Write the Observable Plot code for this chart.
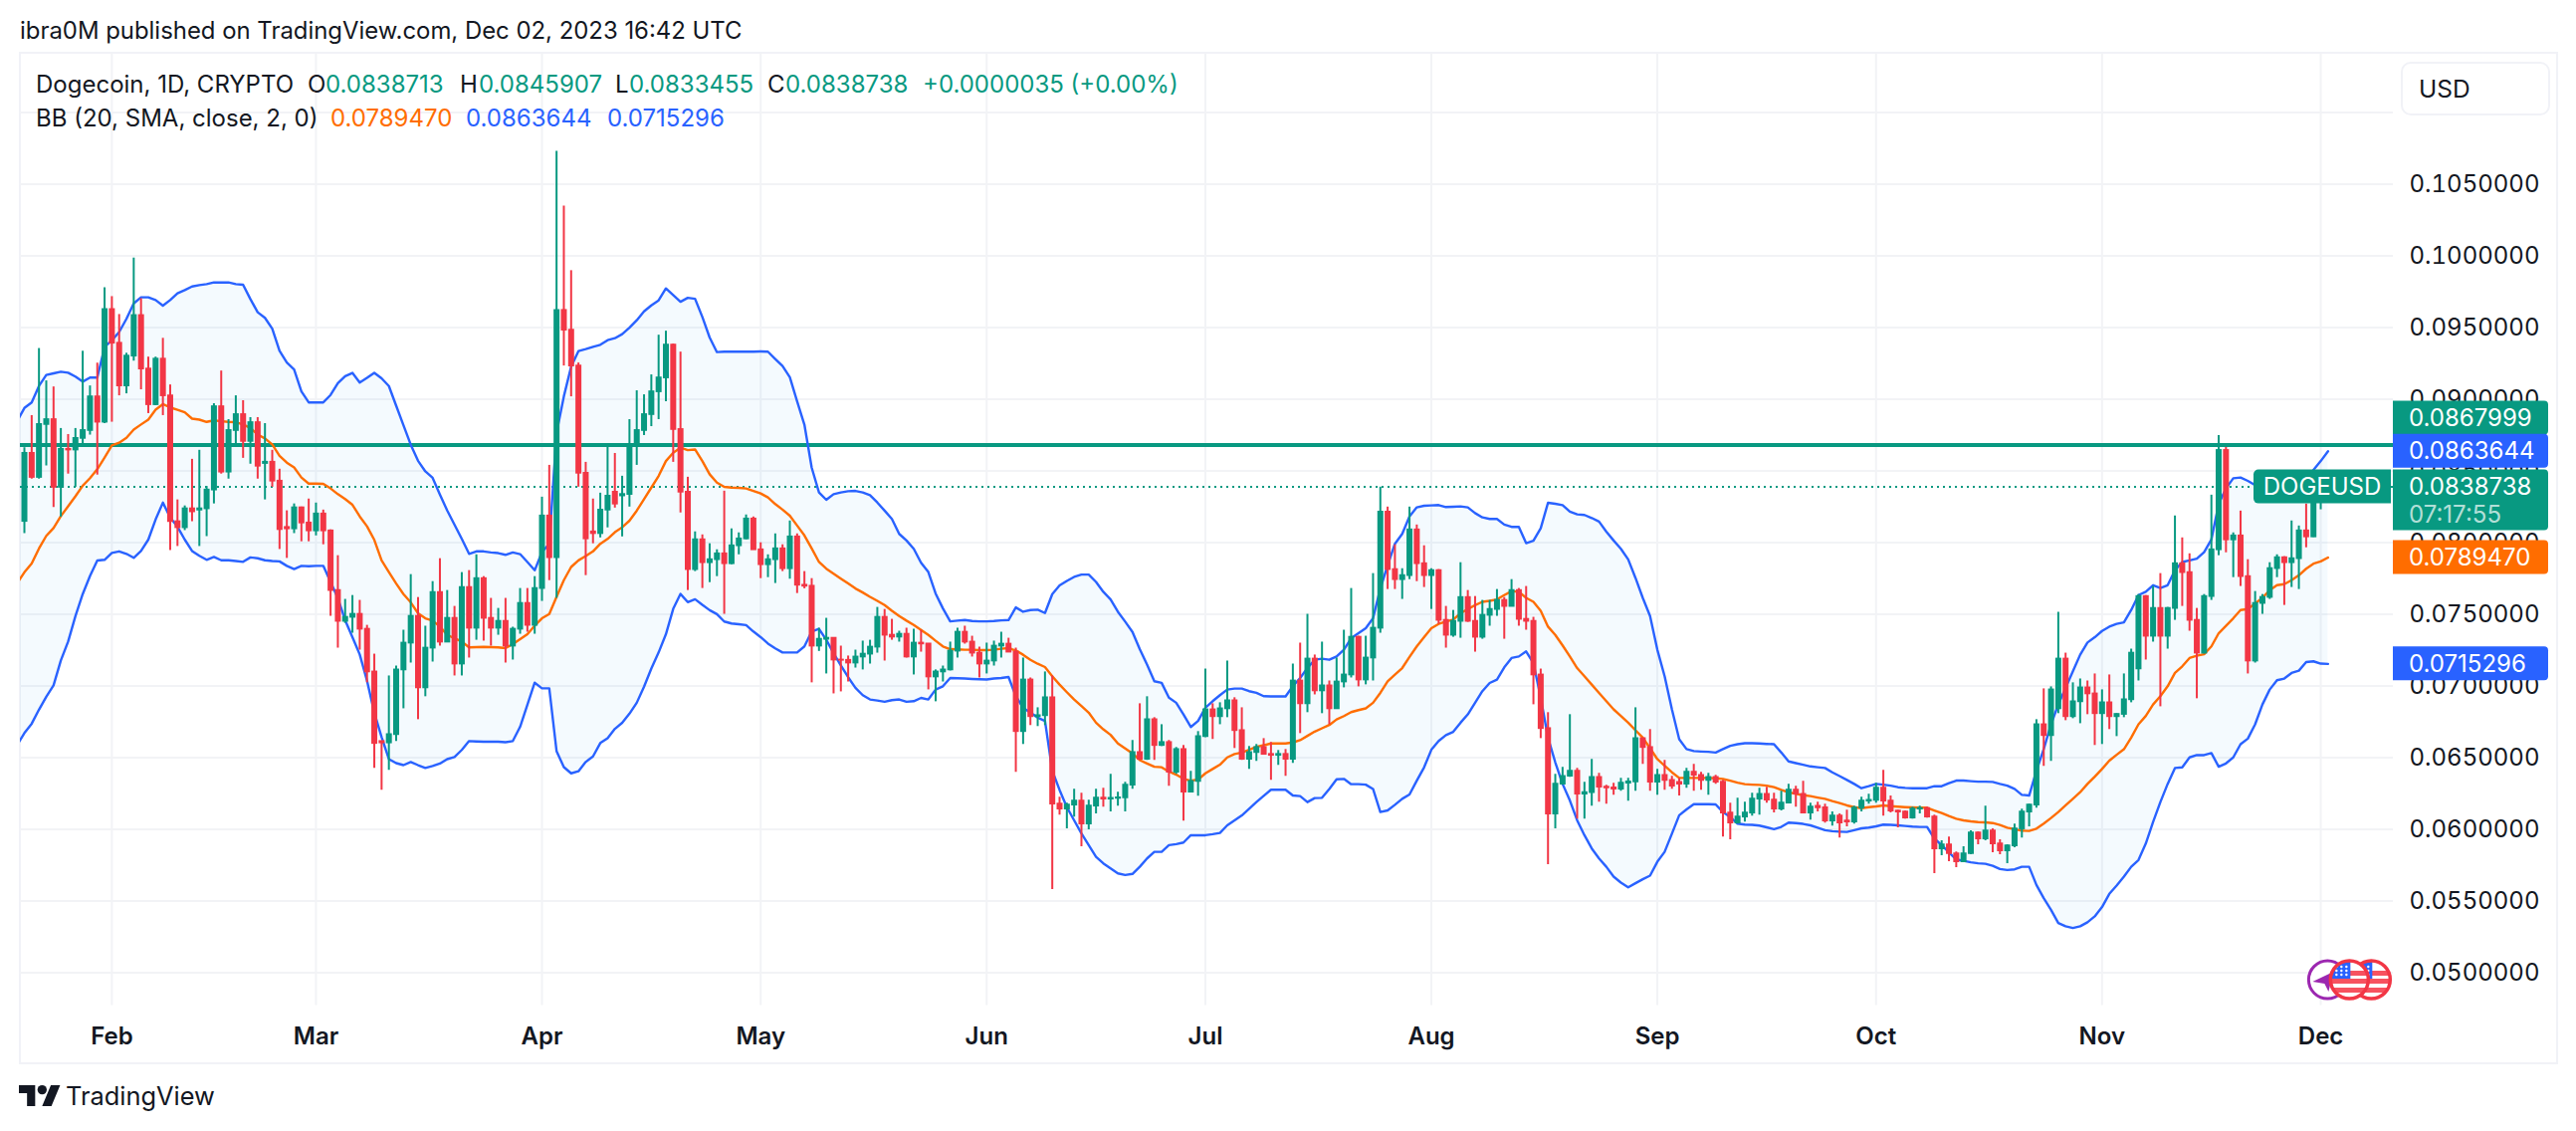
<!DOCTYPE html>
<html><head><meta charset="utf-8">
<script src="https://cdn.jsdelivr.net/npm/d3@7"></script>
<script src="https://cdn.jsdelivr.net/npm/@observablehq/plot@0.6"></script>
<style>
html,body{margin:0;padding:0;background:#fff;width:2588px;height:1136px;overflow:hidden;font-family:Inter,"Liberation Sans",sans-serif;color:#131722}
#frame{position:absolute;left:19px;top:52px;width:2547px;height:1013px;border:2px solid #f1f2f7}
#chart{position:absolute;left:0;top:0}
.t{position:absolute;white-space:pre;font-size:24px;line-height:30px}
.g{color:#089981}.o{color:#ff6d00}.b{color:#2962ff}
#usd{position:absolute;left:2412px;top:62px;width:146px;height:50px;border:2px solid #f1f2f7;border-radius:10px;background:#fff;font-size:24.5px;line-height:50px;text-indent:16px}
#logo{position:absolute;left:19px;top:1089px}
</style></head><body>
<div id="frame"></div>
<div id="chart"></div>
<div class="t" style="left:20px;top:16px;font-size:23.9px" id="pub">ibra0M published on TradingView.com, Dec 02, 2023 16:42 UTC</div>
<div class="t" style="left:36px;top:70px">Dogecoin, 1D, CRYPTO</div>
<div class="t" style="left:309px;top:70px">O</div><div class="t g" style="left:327px;top:70px">0.0838713</div>
<div class="t" style="left:462px;top:70px">H</div><div class="t g" style="left:481px;top:70px">0.0845907</div>
<div class="t" style="left:618px;top:70px">L</div><div class="t g" style="left:632px;top:70px">0.0833455</div>
<div class="t" style="left:771px;top:70px">C</div><div class="t g" style="left:789px;top:70px">0.0838738</div>
<div class="t g" style="left:927px;top:70px">+0.0000035 (+0.00%)</div>
<div class="t" style="left:36px;top:104px">BB (20, SMA, close, 2, 0)</div>
<div class="t o" style="left:332px;top:104px">0.0789470</div>
<div class="t b" style="left:468px;top:104px">0.0863644</div>
<div class="t b" style="left:610px;top:104px">0.0715296</div>
<div id="usd">USD</div>
<svg id="logo" width="42" height="24" viewBox="0 4 36 19"><path fill="#131722" d="M14 22H7V11H0V4h14v18zM28 22h-8l7.5-18h8L28 22z"/><circle fill="#131722" cx="20" cy="8" r="4"/></svg>
<div class="t" style="left:66px;top:1084px;font-size:25.4px;line-height:34px">TradingView</div>
<script>
// all prices below are in units of 0.00001 USD
const close=[8622,8454,8823,8857,8385,8650,8645,8726,8781,9016,
8839,9625,9390,9092,9300,9583,9210,8961,9279,9023,
8145,8103,8235,8214,8235,8366,8947,8491,8781,8892,
8705,8836,8532,8560,8428,8090,8095,8242,8136,8081,
8199,8081,7665,7450,7478,7499,7395,7097,6598,6602,
6660,7111,7298,7485,6986,7263,7651,7305,7471,7152,
7686,7402,7748,7471,7402,7450,7277,7395,7575,7422,
7679,8185,7894,9619,9481,9231,8483,8025,8062,8226,
8323,8268,8335,8684,8781,8892,9051,9148,9377,8788,
8351,7811,8019,7859,7880,7921,7852,7977,8025,8164,
7949,7845,7880,7956,7817,8039,7702,7695,7277,7325,
7332,7180,7178,7159,7201,7221,7270,7478,7353,7340,
7360,7201,7298,7292,7062,7097,7111,7242,7374,7305,
7228,7152,7173,7277,7291,7235,6681,7041,6785,6792,
6917,6175,6140,6168,6196,6036,6161,6217,6210,6215,
6219,6307,6535,6487,6764,6584,6605,6397,6556,6258,
6334,6646,6833,6785,6840,6896,6688,6487,6535,6570,
6522,6515,6522,6487,7034,6875,7187,6965,7000,6840,
7027,7076,7339,7041,7194,7402,8212,7811,7741,7769,
8088,7852,7769,7804,7457,7353,7450,7616,7450,7339,
7492,7533,7596,7554,7665,7464,7450,7076,6702,6106,
6314,6369,6404,6244,6256,6362,6293,6288,6280,6321,
6330,6632,6570,6328,6376,6341,6300,6314,6397,6376,
6341,6362,6328,6113,6043,6085,6113,6210,6244,6203,
6140,6182,6272,6244,6113,6154,6150,6057,6092,6043,
6050,6147,6196,6201,6286,6196,6127,6120,6078,6140,
6145,6085,5863,5891,5829,5773,5829,5974,5932,5988,
5898,5849,5884,6002,6120,6168,6729,6653,6972,7187,
6785,6889,6986,6944,6806,6882,6785,6801,6903,7228,
7623,7346,7540,7346,7540,7852,7790,7457,7228,7623,
7949,8642,8018,8046,7762,7173,7575,7617,7818,7894,
7859,7887,8081,8039,8320,8387,8387.38];
const high=[8661,8885,9353,9127,9085,8795,8753,8795,9334,9092,
9251,9777,9715,9590,9320,9984,9701,9293,9293,9424,
9099,8297,8255,8580,8643,8391,8968,9196,8857,9023,
8989,8871,8871,8829,8643,8511,8221,8269,8247,8303,
8275,8226,8088,7908,7603,7630,7596,7422,7221,6612,
7069,7138,7388,7776,7616,7416,7727,7887,7665,7554,
7790,7804,7914,7762,7610,7540,7610,7409,7679,7679,
7762,8316,8538,10728,10347,9896,9252,8559,8303,8344,
8663,8621,8462,8857,9058,9030,9169,9446,9474,9384,
9328,8455,8074,8053,7991,7949,8358,8095,8067,8192,
8178,7998,7914,8060,7984,8150,8060,7797,7748,7402,
7471,7332,7277,7208,7249,7312,7318,7547,7533,7464,
7381,7402,7395,7388,7284,7111,7138,7305,7402,7416,
7346,7270,7298,7312,7374,7332,7263,7194,7055,6847,
7097,7069,6224,6182,6279,6251,6203,6279,6286,6383,
6258,6328,6619,6875,6924,6778,6729,6619,6570,6584,
6404,6681,7117,6875,6882,7173,6917,6847,6577,6591,
6632,6605,6549,6556,7152,7298,7499,7215,7305,7034,
7194,7388,7679,7346,7346,7783,8386,8247,7984,7817,
8247,8122,7977,7817,7811,7554,7526,7859,7665,7623,
7596,7596,7672,7616,7741,7679,7693,7478,7117,6813,
6383,6431,6799,6425,6328,6487,6390,6307,6321,6355,
6355,6847,6632,6695,6418,6480,6369,6355,6425,6452,
6397,6390,6376,6341,6182,6217,6189,6251,6286,6293,
6251,6265,6314,6300,6334,6182,6189,6175,6120,6106,
6133,6161,6224,6244,6321,6411,6231,6133,6127,6154,
6161,6154,6099,5919,5946,5842,5877,5988,5981,6161,
6002,5926,5891,6036,6140,6175,6764,6979,6993,7513,
7228,7021,7048,7034,7083,6972,7076,6806,7083,7256,
7637,7630,7693,7783,7547,8185,8032,7921,7540,7637,
8330,8746,8663,8067,8219,7880,7658,7637,7859,7914,
7901,8150,8115,8268,8360,8460,8459.07];
const low=[8062,8442,8442,8534,8244,8177,8477,8385,8684,8749,
8470,8829,8839,9023,9037,9265,9065,8899,8954,8885,
7944,7972,8083,8145,7972,8041,8269,8477,8442,8677,
8587,8546,8442,8297,8385,7951,7889,8062,8005,8005,
8046,7984,7485,7263,7436,7367,7249,7021,6425,6272,
6411,6612,6840,7159,6764,6924,7166,7277,7305,7069,
7069,7194,7318,7312,7277,7353,7159,7180,7360,7374,
7360,7589,7734,7610,9231,9016,8386,7769,7991,8032,
8102,8240,8039,8247,8538,8746,8808,8857,8982,8559,
8206,7665,7797,7679,7720,7762,7499,7845,7914,8019,
7949,7748,7755,7714,7797,7744,7644,7677,7021,7240,
7083,6944,6958,7027,7124,7111,7152,7228,7173,7318,
7305,7194,7076,7235,6972,6889,7027,7104,7194,7291,
7201,7055,7083,7138,7194,7235,6397,6591,6723,6716,
6723,5579,6099,6002,6085,5877,5995,6106,6154,6120,
6161,6120,6279,6480,6480,6480,6577,6300,6383,6057,
6258,6230,6639,6626,6729,6778,6563,6480,6418,6473,
6522,6341,6445,6369,6459,6667,6813,6937,6806,6729,
6840,6986,7055,6993,7007,7034,7367,7672,7672,7603,
7741,7727,7686,7533,7429,7263,7339,7332,7443,7235,
7325,7416,7485,7325,7554,7416,7388,6868,6632,5752,
6002,6307,6362,6071,6071,6161,6189,6175,6237,6265,
6196,6265,6452,6265,6237,6272,6279,6231,6286,6265,
6272,6237,6314,5946,5926,6036,6050,6092,6099,6182,
6113,6127,6177,6154,6113,6064,6120,6043,6022,5939,
6016,6036,6120,6175,6182,6092,6113,6009,6071,6071,
6106,6078,5690,5815,5773,5732,5766,5822,5891,5919,
5836,5822,5759,5870,5939,6016,6147,6438,6473,6806,
6757,6771,6736,6799,6584,6591,6695,6646,6778,6882,
7034,7180,7305,6854,7256,7457,7554,7381,6910,7222,
7596,7908,7928,7755,7693,7083,7159,7499,7603,7755,
7561,7686,7672,7963,8035,8228,8334.55];
// bars whose open was read as differing from the previous close
const openRead={0:8147,24:8226,33:8551,36:8105,49:6612,78:8074,81:8351,82:8325,227:6327,246:6160,250:6057,279:6840,290:7118,316:8387.13};
// Bollinger bands: first entry is the day before the first bar
const upper=[8846,8938,8977,9092,9168,9180,9191,9184,9157,9122,9150,
9150,9364,9410,9468,9560,9668,9710,9710,9691,9652,
9691,9738,9761,9786,9795,9802,9814,9814,9814,9802,
9798,9698,9606,9567,9491,9337,9256,9207,9054,8977,
8977,8977,9029,9111,9160,9183,9116,9148,9183,9145,
9091,8954,8818,8682,8570,8496,8451,8335,8223,8124,
8025,7921,7938,7938,7931,7926,7914,7931,7919,7864,
7806,7933,7991,8765,9019,9227,9335,9349,9365,9379,
9411,9425,9453,9499,9550,9612,9654,9689,9772,9726,
9679,9707,9700,9573,9430,9328,9331,9331,9331,9331,
9331,9333,9331,9280,9231,9153,8984,8822,8522,8349,
8298,8337,8349,8358,8360,8349,8330,8279,8222,8164,
8060,8014,7956,7859,7794,7644,7540,7450,7455,7459,
7452,7450,7450,7452,7457,7459,7547,7517,7529,7531,
7508,7640,7700,7732,7760,7776,7776,7725,7656,7603,
7517,7448,7376,7256,7148,7032,7021,6917,6882,6801,
6713,6755,6847,6893,6935,6974,6981,6981,6963,6951,
6928,6926,6926,6926,6997,7055,7125,7182,7189,7182,
7205,7252,7332,7367,7402,7471,7679,7841,7991,8060,
8182,8245,8256,8259,8261,8247,8249,8252,8245,8205,
8175,8164,8164,8125,8109,8109,7995,8012,8099,8277,
8270,8261,8215,8196,8192,8171,8146,8076,8014,7956,
7882,7753,7614,7487,7252,7067,6836,6628,6559,6545,
6542,6540,6535,6559,6582,6593,6600,6600,6598,6595,
6593,6535,6473,6461,6450,6438,6432,6427,6397,6371,
6344,6316,6286,6300,6316,6311,6304,6293,6288,6286,
6286,6286,6300,6300,6321,6339,6339,6335,6332,6332,
6330,6316,6304,6281,6240,6235,6408,6559,6732,6870,
6986,7101,7217,7302,7339,7383,7413,7432,7443,7529,
7633,7656,7702,7683,7702,7806,7864,7875,7887,7933,
8021,8268,8377,8448,8453,8430,8400,8370,8350,8340,
8335,8340,8360,8430,8506,8568,8636.44];
const middle=[7716,7792,7854,7958,8046,8101,8184,8253,8322,8396,8449,
8511,8592,8677,8696,8730,8788,8823,8857,8926,8965,
8942,8926,8908,8864,8857,8841,8852,8846,8841,8839,
8823,8799,8753,8726,8684,8604,8557,8523,8453,8411,
8411,8409,8377,8337,8303,8263,8182,8113,8018,7875,
7794,7714,7640,7582,7506,7471,7455,7413,7355,7332,
7309,7268,7270,7272,7270,7268,7263,7291,7325,7360,
7420,7471,7501,7621,7737,7829,7875,7905,7938,7991,
8025,8072,8106,8152,8222,8302,8383,8464,8568,8626,
8661,8644,8649,8568,8476,8418,8388,8383,8381,8377,
8360,8342,8314,8268,8229,8187,8118,8049,7958,7864,
7817,7783,7748,7714,7679,7651,7621,7593,7563,7524,
7487,7455,7425,7390,7355,7314,7275,7256,7254,7252,
7252,7249,7249,7252,7259,7263,7247,7217,7182,7154,
7131,7067,7009,6956,6905,6859,6813,6743,6697,6658,
6598,6563,6529,6482,6459,6436,6432,6402,6381,6351,
6339,6346,6390,6420,6450,6501,6524,6535,6554,6575,
6586,6598,6598,6598,6605,6621,6651,6681,6704,6727,
6766,6789,6817,6831,6843,6882,6951,7032,7078,7124,
7201,7275,7339,7402,7432,7448,7462,7506,7536,7563,
7586,7593,7603,7633,7660,7656,7614,7586,7524,7413,
7355,7282,7205,7124,7067,7009,6951,6893,6836,6790,
6743,6690,6639,6565,6489,6443,6397,6358,6358,6358,
6358,6358,6355,6351,6339,6325,6314,6311,6309,6304,
6293,6274,6258,6247,6237,6231,6221,6212,6196,6182,
6166,6154,6147,6154,6159,6166,6161,6157,6154,6152,
6150,6150,6131,6113,6092,6073,6062,6055,6050,6048,
6043,6029,6011,6000,5990,5988,6004,6039,6078,6120,
6166,6212,6258,6316,6367,6420,6478,6519,6558,6639,
6732,6790,6870,6928,6997,7090,7136,7194,7210,7221,
7275,7367,7418,7471,7529,7536,7575,7614,7667,7702,
7709,7737,7771,7817,7852,7868,7894.70];
const lower=[6587,6671,6736,6834,6924,7003,7177,7309,7486,7640,7767,
7874,7879,7927,7938,7921,7893,7941,8020,8160,8278,
8174,8110,8020,7941,7907,7879,7899,7876,7876,7871,
7865,7896,7890,7876,7871,7868,7837,7815,7837,7834,
7837,7837,7725,7612,7458,7340,7219,7036,6812,6643,
6489,6461,6447,6469,6447,6427,6441,6458,6489,6503,
6553,6615,6612,6610,6610,6610,6607,6615,6714,6868,
7022,6983,6983,6545,6433,6390,6404,6469,6508,6601,
6635,6700,6742,6806,6882,6994,7121,7233,7360,7537,
7641,7584,7604,7565,7528,7500,7449,7435,7430,7424,
7379,7340,7295,7261,7233,7233,7233,7275,7379,7397,
7321,7228,7143,7060,6986,6935,6905,6898,6889,6900,
6905,6889,6893,6916,6905,6974,6997,7055,7053,7051,
7048,7046,7044,7051,7055,7062,6928,6847,6813,6778,
6755,6408,6274,6154,6062,5970,5889,5808,5762,5727,
5692,5681,5688,5738,5796,5842,5842,5889,5896,5907,
5958,5958,5958,5965,5974,6027,6062,6096,6143,6189,
6233,6275,6275,6275,6235,6231,6189,6217,6219,6281,
6348,6351,6314,6314,6311,6281,6120,6131,6170,6212,
6242,6339,6431,6554,6616,6656,6679,6743,6801,6882,
6963,7020,7044,7129,7194,7205,7240,7159,6917,6639,
6466,6316,6200,6062,5958,5866,5796,5738,5669,5628,
5595,5623,5651,5676,5773,5842,5969,6097,6138,6175,
6175,6175,6173,6120,6085,6039,6032,6030,6025,6013,
6000,6016,6046,6043,6037,6027,6011,5993,5986,5983,
5981,5993,6006,6011,6020,6032,6030,6027,6023,6018,
6016,6016,5935,5889,5838,5789,5780,5769,5762,5759,
5745,5722,5715,5720,5738,5738,5611,5519,5438,5346,
5323,5311,5323,5351,5392,5457,5549,5607,5669,5738,
5785,5900,6050,6189,6316,6427,6431,6501,6517,6517,
6531,6436,6459,6501,6593,6632,6732,6870,6974,7039,
7051,7090,7106,7166,7171,7155,7152.96];
const priceTicks=[0.05,0.055,0.06,0.065,0.07,0.075,0.08,0.085,0.09,0.095,0.1,0.105];
const gridPrices=[...priceTicks,0.11];
const monthTicks=["2023-02-01","2023-03-01","2023-04-01","2023-05-01","2023-06-01","2023-07-01","2023-08-01","2023-09-01","2023-10-01","2023-11-01","2023-12-01"];
const trendLevel=0.0867999, lastPrice=0.0838738;
const priceLabels=[
 {text:"0.0867999",value:trendLevel,fill:"#089981",dy:-27},
 {text:"0.0863644",value:0.0863644,fill:"#2962ff",dy:0},
 {text:"0.0838738",value:lastPrice,fill:"#089981",dy:0,extra:"07:17:55",name:"DOGEUSD"},
 {text:"0.0789470",value:0.078947,fill:"#ff6d00",dy:0},
 {text:"0.0715296",value:0.0715296,fill:"#2962ff",dy:0}];
const eventDays=[{i:316,kind:"split"},{i:322,kind:"us"},{i:319,kind:"us"}];

const UP="#089981",DOWN="#f23645",GRID="#f2f3f6",UNIT=1e-5,LAST_SLOT=324.96;
const dayOf=i=>new Date(Date.UTC(2023,0,20)+i*864e5);
const bars=close.map((c,i)=>{
  const o=(openRead[i]??close[i-1])*UNIT, cl=c*UNIT;
  return {date:dayOf(i),open:o,close:cl,high:high[i]*UNIT,low:low[i]*UNIT,up:cl>=o};
});
const bands=upper.map((u,k)=>({date:dayOf(k-1),upper:u*UNIT,middle:middle[k]*UNIT,lower:lower[k]*UNIT}));
const pad=0.00006;
const chart=Plot.plot({
  width:2588,height:1136,marginLeft:20,marginRight:184,marginTop:53,marginBottom:126.5,
  style:{background:"transparent",fontFamily:"Inter,sans-serif",fontSize:"24px",color:"#131722"},
  x:{type:"utc",domain:[dayOf(-0.546),dayOf(LAST_SLOT)]},
  y:{domain:[0.0477,0.114125]},
  marks:[
    Plot.ruleX(monthTicks.map(d=>new Date(d)),{stroke:GRID,strokeWidth:2}),
    Plot.ruleY(gridPrices,{stroke:GRID,strokeWidth:2}),
    Plot.axisY({anchor:"right",ticks:priceTicks,tickFormat:d3.format(".7f"),tickSize:0,tickPadding:16,label:null,fontSize:24}),
    Plot.axisX({ticks:monthTicks.map(d=>new Date(d)),tickFormat:d3.utcFormat("%b"),tickSize:0,tickPadding:22,label:null,fontWeight:600,fontSize:24}),
    Plot.areaY(bands,{x:"date",y1:"lower",y2:"upper",fill:"#2196f3",fillOpacity:0.05,clip:"frame"}),
    Plot.ruleY([lastPrice],{stroke:UP,strokeWidth:2,strokeDasharray:"2 4"}),
    Plot.ruleY([trendLevel],{stroke:UP,strokeWidth:4}),
    Plot.lineY(bands,{x:"date",y:"upper",stroke:"#2962ff",strokeWidth:2.4,clip:"frame"}),
    Plot.lineY(bands,{x:"date",y:"lower",stroke:"#2962ff",strokeWidth:2.4,clip:"frame"}),
    Plot.lineY(bands,{x:"date",y:"middle",stroke:"#ff6d00",strokeWidth:2.4,clip:"frame"}),
    Plot.ruleX(bars,{x:"date",y1:"low",y2:"high",stroke:d=>d.up?UP:DOWN,strokeWidth:2,clip:"frame"}),
    Plot.ruleX(bars,{x:"date",y1:d=>Math.min(d.open,d.close)-pad,y2:d=>Math.max(d.open,d.close)+pad,stroke:d=>d.up?UP:DOWN,strokeWidth:6,clip:"frame"})
  ]
});
document.getElementById("chart").append(chart);

// price labels and event badges positioned through the chart's own scales
const sy=chart.scale("y").apply, sx=chart.scale("x").apply;
const svg=d3.select(chart);
const right=sx(dayOf(LAST_SLOT));
const boxW=156, boxH=34;
const roundR=(x,y,w,h,r)=>`M${x},${y}h${w-r}a${r},${r} 0 0 1 ${r},${r}v${h-2*r}a${r},${r} 0 0 1 ${-r},${r}h${-(w-r)}z`;
const roundL=(x,y,w,h,r)=>`M${x+w},${y}h${-(w-r)}a${r},${r} 0 0 0 ${-r},${r}v${h-2*r}a${r},${r} 0 0 0 ${r},${r}h${w-r}z`;
for(const l of priceLabels){
  const cy=sy(l.value)+l.dy, h=l.extra?61:boxH;
  const g=svg.append("g").attr("text-anchor","start");
  g.append("path").attr("d",roundR(right,cy-boxH/2,boxW,h,4)).attr("fill",l.fill);
  g.append("text").attr("x",right+16).attr("y",cy).attr("dy","0.36em").attr("fill","#fff").attr("font-size",24).text(l.text);
  if(l.extra){
    g.append("text").attr("x",right+16).attr("y",cy+28).attr("dy","0.36em").attr("fill","#fff").attr("fill-opacity",0.7).attr("font-size",24).text(l.extra);
    g.append("path").attr("d",roundL(right-140,cy-boxH/2,138,boxH,5)).attr("fill",l.fill);
    g.append("text").attr("x",right-71).attr("y",cy).attr("dy","0.36em").attr("text-anchor","middle").attr("fill","#fff").attr("font-size",24).text(l.name);
  }
}
const defs=svg.append("defs");
const evY=sy(0.04947);
eventDays.forEach((e,n)=>{
  const cx=sx(dayOf(e.i)), r=19;
  const g=svg.append("g").attr("transform",`translate(${cx},${evY})`);
  if(e.kind==="split"){
    g.append("circle").attr("r",r).attr("fill","#fff").attr("stroke","#9c27b0").attr("stroke-width",3);
    g.append("path").attr("d","M-15,2L6,-8L1,12L-3,4z").attr("fill","#9c27b0");
  }else{
    const id="c"+n;
    defs.append("clipPath").attr("id",id).append("circle").attr("r",r);
    g.append("circle").attr("r",r).attr("fill","#fff");
    const f=g.append("g").attr("clip-path",`url(#${id})`);
    [-9,-1,8].forEach(s=>f.append("rect").attr("x",-22).attr("y",s).attr("width",44).attr("height",5).attr("fill","#f7525f"));
    f.append("rect").attr("x",-22).attr("y",-22).attr("width",23).attr("height",21).attr("fill","#2962ff");
    for(const px of [-13,-8,-3]) for(const py of [-13,-9,-5]) f.append("circle").attr("cx",px).attr("cy",py).attr("r",1.2).attr("fill","#fff");
    g.append("circle").attr("r",r).attr("fill","none").attr("stroke","#f23645").attr("stroke-width",3.5);
  }
});
</script>
</body></html>
